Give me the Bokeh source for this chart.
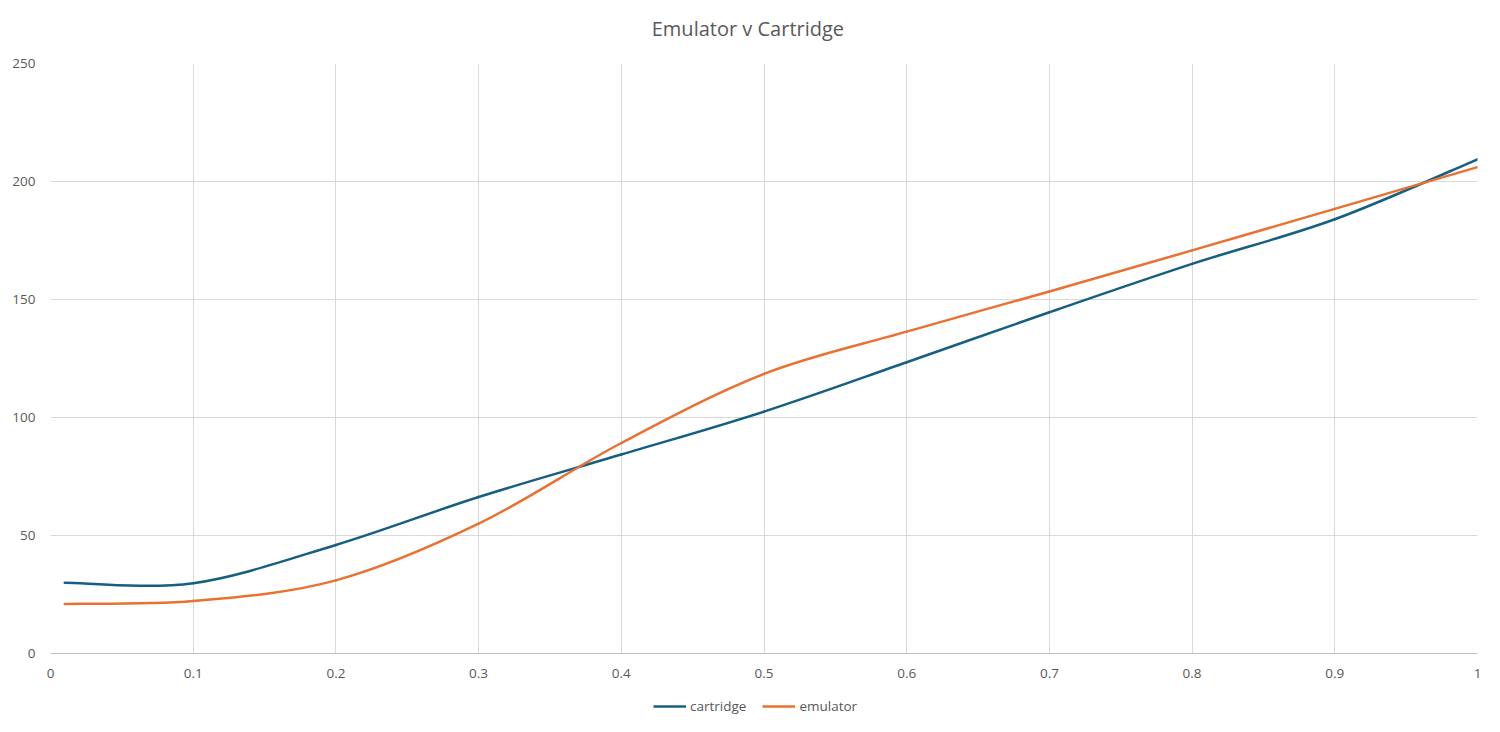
import numpy as np
from bokeh.plotting import figure
from bokeh.layouts import column
from bokeh.models import FixedTicker, Legend, LegendItem, Range1d, Label
from bokeh.embed import file_html
from bokeh.resources import INLINE

# ---- data ----
x_vals = [0.01, 0.1, 0.2, 0.3, 0.4, 0.5, 0.6, 0.7, 0.8, 0.9, 1.0]
cartridge = [30.0, 29.8, 46.0, 66.3, 84.3, 102.5, 123.4, 144.6, 165.1, 184.0, 209.4]
emulator = [21.0, 22.2, 31.0, 55.0, 89.2, 118.5, 136.4, 153.4, 170.8, 188.4, 206.1]

x_ticks = [0, 0.1, 0.2, 0.3, 0.4, 0.5, 0.6, 0.7, 0.8, 0.9, 1]
x_tick_labels = ["0", "0.1", "0.2", "0.3", "0.4", "0.5", "0.6", "0.7", "0.8", "0.9", "1"]
y_ticks = [0, 50, 100, 150, 200, 250]

series_names = ["cartridge", "emulator"]
series_colors = ["#156082", "#E97132"]
title_text = "Emulator v  Cartridge"

FONT = "Open Sans"
TXT = "#595959"
W = 1500
LEFT = 50   # left border of the chart; the strips' frames are aligned to it


def smooth_segments(xs, ys):
    """Excel-style smoothed line: one cubic Bezier per pair of neighbouring points."""
    x = np.asarray(xs, float)
    y = np.asarray(ys, float)
    n = len(x)
    xp = np.concatenate([[x[0]], x, [x[-1]]])
    yp = np.concatenate([[y[0]], y, [y[-1]]])
    cx0 = x[:-1] + (xp[2:n + 1] - xp[0:n - 1]) / 6.0
    cy0 = y[:-1] + (yp[2:n + 1] - yp[0:n - 1]) / 6.0
    cx1 = x[1:] - (xp[3:n + 2] - xp[1:n]) / 6.0
    cy1 = y[1:] - (yp[3:n + 2] - yp[1:n]) / 6.0
    return dict(x0=x[:-1], y0=y[:-1], x1=x[1:], y1=y[1:],
                cx0=cx0, cy0=cy0, cx1=cx1, cy1=cy1)


def bare(fig):
    fig.outline_line_color = None
    fig.background_fill_color = "white"
    fig.border_fill_color = "white"
    return fig


# ---- title strip ----
pt = bare(figure(width=W, height=53, output_backend="svg", toolbar_location=None,
                 x_axis_location=None, y_axis_location=None, min_border=0,
                 x_range=Range1d(0, 1), y_range=Range1d(0, 1)))
pt.grid.visible = False
pt.add_layout(Label(x=W / 2 - LEFT, y=25, x_units="screen", y_units="screen", text=title_text,
                    text_align="center", text_baseline="middle", text_font=FONT,
                    text_font_size="20px", text_color=TXT))

# ---- main chart ----
p = bare(figure(width=W, height=632, output_backend="svg", toolbar_location=None,
                x_range=Range1d(0, 1), y_range=Range1d(0, 250),
                min_border_left=LEFT, min_border_right=23,
                min_border_top=10, min_border_bottom=32))

p.xaxis.ticker = FixedTicker(ticks=x_ticks)
p.xaxis.major_label_overrides = {t: l for t, l in zip(x_ticks, x_tick_labels)}
p.yaxis.ticker = FixedTicker(ticks=y_ticks)
p.xgrid.ticker = FixedTicker(ticks=x_ticks)
p.ygrid.ticker = FixedTicker(ticks=y_ticks)

for ax in (p.xaxis, p.yaxis):
    ax.major_tick_line_color = None
    ax.minor_tick_line_color = None
    ax.major_label_text_font = FONT
    ax.major_label_text_font_size = "13.5px"
    ax.major_label_text_color = TXT
p.xaxis.axis_line_color = "#BFBFBF"
p.yaxis.axis_line_color = None
p.xaxis.major_label_standoff = 9
p.yaxis.major_label_standoff = 9

for g in (p.xgrid, p.ygrid):
    g.grid_line_color = "#D9D9D9"
    g.grid_line_width = 1

for ys, col in zip([cartridge, emulator], series_colors):
    p.bezier(line_color=col, line_width=2.5, line_cap="round", **smooth_segments(x_vals, ys))

# ---- legend strip (same series, kept out of its view; only the legend shows) ----
pl = bare(figure(width=W, height=47, output_backend="svg", toolbar_location=None,
                 x_axis_location=None, y_axis_location=None, min_border=0,
                 x_range=Range1d(5, 6), y_range=Range1d(0, 1)))
pl.grid.visible = False
leg_renderers = []
for ys, col in zip([cartridge, emulator], series_colors):
    leg_renderers.append(pl.bezier(line_color=col, line_width=2.5, **smooth_segments(x_vals, ys)))

legend = Legend(items=[LegendItem(label=n, renderers=[r]) for n, r in zip(series_names, leg_renderers)],
                orientation="horizontal", location=(653 - LEFT, 17),
                label_text_font=FONT, label_text_font_size="13.5px", label_text_color=TXT,
                glyph_width=33, glyph_height=14, label_standoff=4, spacing=16,
                padding=0, margin=0, border_line_color=None, background_fill_alpha=0)
pl.add_layout(legend, "center")

layout = column(pt, p, pl, spacing=0)
open("out.html", "w").write(file_html(layout, INLINE))
